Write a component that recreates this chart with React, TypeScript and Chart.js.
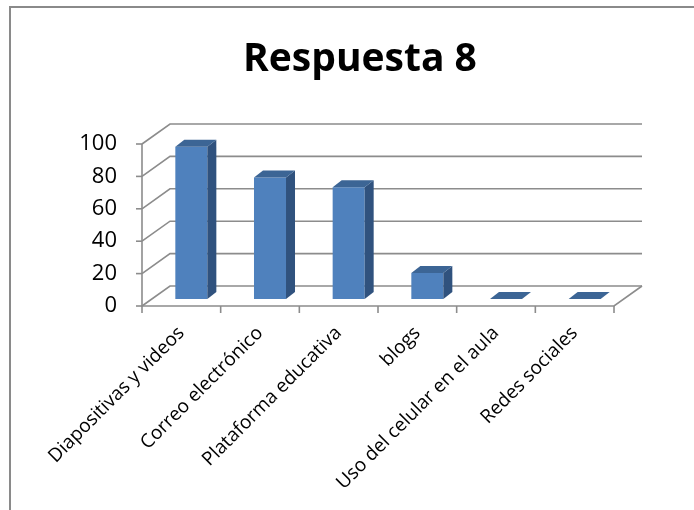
import React, { useEffect, useRef } from 'react';
import { Chart, registerables } from 'chart.js';

Chart.register(...registerables);

const TITLE = 'Respuesta 8';
const CATEGORIES = [
  'Diapositivas y videos',
  'Correo electrónico',
  'Plataforma educativa',
  'blogs',
  'Uso del celular en el aula',
  'Redes sociales',
];
const VALUES = [94, 75, 69, 16, 0, 0];
const Y_MIN = 0;
const Y_MAX = 100;
const Y_STEP = 20;

// 3D look
const WALL_DX = 28;
const WALL_DY = -20;
const BAR_SHIFT_X = 10;
const BAR_SHIFT_Y = -7;
const BAR_DEPTH_X = 9;
const BAR_DEPTH_Y = -7;

const GRID = '#8c8c8c';
const FRONT = '#4f81bd';
const TOP = '#3c6595';
const SIDE = '#30527e';

const threeD = {
  id: 'threeD',
  beforeDraw(chart: any) {
    const { ctx, scales } = chart;
    const xs = scales.x;
    const ys = scales.y;
    ctx.save();
    ctx.fillStyle = '#ffffff';
    ctx.fillRect(0, 0, chart.width, chart.height);
    // outer frame (cropped)
    ctx.strokeStyle = '#8a8a8a';
    ctx.lineWidth = 2;
    ctx.beginPath();
    ctx.moveTo(10, chart.height);
    ctx.lineTo(10, 7);
    ctx.lineTo(chart.width, 7);
    ctx.stroke();
    // title
    ctx.fillStyle = '#000';
    ctx.font = 'bold 39px "Open Sans"';
    ctx.textAlign = 'center';
    ctx.textBaseline = 'alphabetic';
    ctx.fillText(TITLE, 360, 71);

    const L = xs.left;
    const R = xs.right;
    ctx.strokeStyle = GRID;
    ctx.lineWidth = 1.6;
    ctx.lineJoin = 'miter';
    for (const t of ys.ticks) {
      const py = ys.getPixelForValue(t.value);
      ctx.beginPath();
      ctx.moveTo(L, py);
      ctx.lineTo(L + WALL_DX, py + WALL_DY);
      ctx.lineTo(R + WALL_DX, py + WALL_DY);
      ctx.stroke();
      ctx.beginPath();
      ctx.moveTo(L - 6, py);
      ctx.lineTo(L, py);
      ctx.stroke();
    }
    const y0 = ys.getPixelForValue(Y_MIN);
    const y1 = ys.getPixelForValue(Y_MAX);
    ctx.beginPath();
    ctx.moveTo(L, y1);
    ctx.lineTo(L, y0);
    ctx.lineTo(R, y0);
    ctx.lineTo(R + WALL_DX, y0 + WALL_DY);
    ctx.stroke();
    const n = CATEGORIES.length;
    for (let i = 0; i <= n; i++) {
      const px = L + (i * (R - L)) / n;
      ctx.beginPath();
      ctx.moveTo(px, y0);
      ctx.lineTo(px, y0 + 7);
      ctx.stroke();
    }
    ctx.restore();
  },
  beforeDatasetsDraw(chart: any) {
    chart.ctx.save();
    chart.ctx.translate(BAR_SHIFT_X, BAR_SHIFT_Y);
  },
  afterDatasetsDraw(chart: any) {
    const ctx = chart.ctx;
    ctx.restore();
    ctx.save();
    const meta = chart.getDatasetMeta(0);
    for (const bar of meta.data) {
      const p = bar.getProps(['x', 'y', 'base', 'width'], true);
      const left = p.x - p.width / 2 + BAR_SHIFT_X;
      const right = p.x + p.width / 2 + BAR_SHIFT_X;
      const top = Math.min(p.y, p.base) + BAR_SHIFT_Y;
      const bottom = Math.max(p.y, p.base) + BAR_SHIFT_Y;
      // side face
      ctx.fillStyle = SIDE;
      ctx.beginPath();
      ctx.moveTo(right, top);
      ctx.lineTo(right + BAR_DEPTH_X, top + BAR_DEPTH_Y);
      ctx.lineTo(right + BAR_DEPTH_X, bottom + BAR_DEPTH_Y);
      ctx.lineTo(right, bottom);
      ctx.closePath();
      ctx.fill();
      // top face
      ctx.fillStyle = TOP;
      ctx.beginPath();
      ctx.moveTo(left, top);
      ctx.lineTo(right, top);
      ctx.lineTo(right + BAR_DEPTH_X, top + BAR_DEPTH_Y);
      ctx.lineTo(left + BAR_DEPTH_X, top + BAR_DEPTH_Y);
      ctx.closePath();
      ctx.fill();
    }
    ctx.restore();
  },
};

export default function App() {
  const ref = useRef<HTMLCanvasElement>(null);
  useEffect(() => {
    if (!ref.current) return;
    const chart = new Chart(ref.current, {
      type: 'bar',
      data: {
        labels: CATEGORIES,
        datasets: [
          {
            data: VALUES,
            backgroundColor: FRONT,
            borderWidth: 0,
            categoryPercentage: 1,
            barPercentage: 0.407,
          },
        ],
      },
      options: {
        responsive: false,
        animation: false,
        events: [],
        layout: { padding: { left: 0, top: 144, right: 80, bottom: 0 } },
        plugins: {
          legend: { display: false },
          title: { display: false },
          tooltip: { enabled: false },
        },
        scales: {
          x: {
            type: 'category',
            offset: true,
            grid: { display: false, drawTicks: false },
            border: { display: false },
            ticks: {
              autoSkip: false,
              minRotation: 45,
              maxRotation: 45,
              color: '#000',
              padding: 16,
              font: { family: 'Open Sans', size: 19 },
            },
            afterFit(scale: any) {
              scale.height = 204;
            },
          },
          y: {
            min: Y_MIN,
            max: Y_MAX,
            grid: { display: false, drawTicks: false },
            border: { display: false },
            ticks: {
              stepSize: Y_STEP,
              color: '#000',
              padding: 25,
              font: { family: 'Open Sans', size: 22 },
            },
            afterFit(scale: any) {
              scale.width = 142;
            },
          },
        },
      },
      plugins: [threeD],
    });
    return () => chart.destroy();
  }, []);
  return (
    <div style={{ position: 'fixed', left: 0, top: 0, width: 694, height: 510, background: '#fff' }}>
      <canvas ref={ref} width={694} height={510} />
    </div>
  );
}
